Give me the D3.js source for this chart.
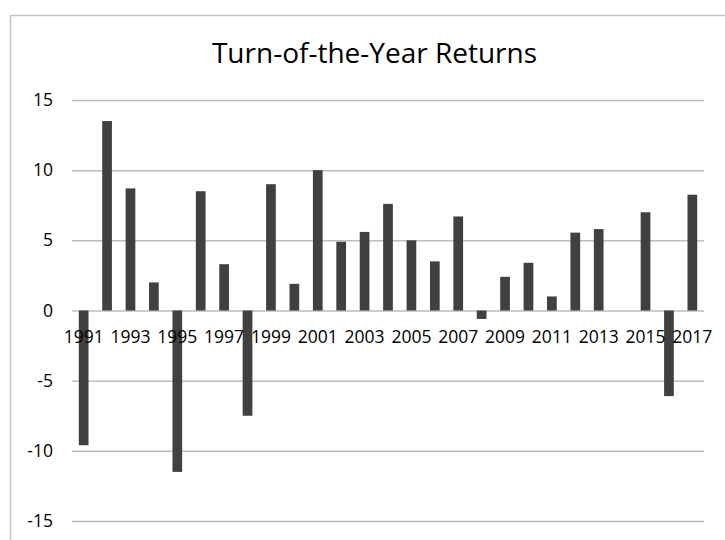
<!DOCTYPE html>
<html>
<head>
<meta charset="utf-8">
<script src="https://cdn.jsdelivr.net/npm/d3@7"></script>
<style>
  body { margin: 0; background: #fff; }
  #figure { width: 725px; height: 540px; }
  text { font-family: "Open Sans", sans-serif; fill: #000; }
</style>
</head>
<body>
<div id="figure"></div>
<script>
const years = ["1991","1992","1993","1994","1995","1996","1997","1998","1999","2000",
               "2001","2002","2003","2004","2005","2006","2007","2008","2009","2010",
               "2011","2012","2013","2014","2015","2016","2017"];
const returns = [-9.6, 13.5, 8.7, 2.0, -11.5, 8.5, 3.3, -7.5, 9.0, 1.9,
                 10.0, 4.9, 5.6, 7.6, 5.0, 3.5, 6.7, -0.6, 2.4, 3.4,
                 1.0, 5.55, 5.8, 0, 7.0, -6.1, 8.25];
const y_ticks = [-15, -10, -5, 0, 5, 10, 15];
const title = "Turn-of-the-Year Returns";

document.addEventListener("DOMContentLoaded", ()=>{
  const figure_width = 725, figure_height = 540;
  const margin = { top: 100, left: 72, right: 21, bottom: 19 },
        width = figure_width - margin.left - margin.right,
        height = figure_height - margin.top - margin.bottom;

  let x_scale = d3.scaleBand()
                  .domain(years)
                  .range([0, width])
                  .paddingInner(0.585)
                  .paddingOuter(0.29);

  let y_scale = d3.scaleLinear()
                  .domain([-15, 15])
                  .range([height, 0]);

  let root = d3.select("#figure").append("svg")
               .attr("width", figure_width)
               .attr("height", figure_height);

  // chart area border
  root.append("rect")
      .attr("x", 10.5).attr("y", 15.5)
      .attr("width", 740).attr("height", 540)
      .attr("fill", "none")
      .attr("stroke", "#c4c4c4")
      .attr("stroke-width", 1.5);

  root.append("text")
      .attr("x", 374.5).attr("y", 63)
      .attr("text-anchor", "middle")
      .style("font-size", "28px")
      .text(title);

  let svg = root.append("g")
                .attr("transform", "translate(" + margin.left + "," + margin.top + ")");

  // gridlines + y labels (plain hyphen minus, like the original)
  let y_axis = svg.append("g")
     .attr("class", "y axis")
     .call(d3.axisLeft(y_scale).tickValues(y_ticks).tickFormat(d => String(d))
             .tickSize(-width).tickPadding(19));
  y_axis.select(".domain").remove();
  y_axis.selectAll(".tick line").attr("stroke", "#bdbdbd").attr("stroke-width", 1.5);
  y_axis.selectAll(".tick text").style("font-size", "17.5px").attr("fill", "#000");

  svg.selectAll("rect.bar")
     .data(returns)
     .enter().append("rect")
     .attr("class", "bar")
     .attr("x", (d,i) => x_scale(years[i]))
     .attr("width", x_scale.bandwidth())
     .attr("y", d => y_scale(Math.max(0, d)))
     .attr("height", d => Math.abs(y_scale(d) - y_scale(0)))
     .attr("fill", "#404040");

  // category labels at the zero line, every other year
  let x_axis = svg.append("g")
     .attr("class", "x axis")
     .attr("transform", "translate(0," + y_scale(0) + ")")
     .call(d3.axisBottom(x_scale)
             .tickValues(years.filter((d,i) => i % 2 === 0))
             .tickSize(0).tickPadding(20));
  x_axis.select(".domain").remove();
  x_axis.selectAll(".tick text").style("font-size", "17.5px").attr("fill", "#000");
});
</script>
</body>
</html>
